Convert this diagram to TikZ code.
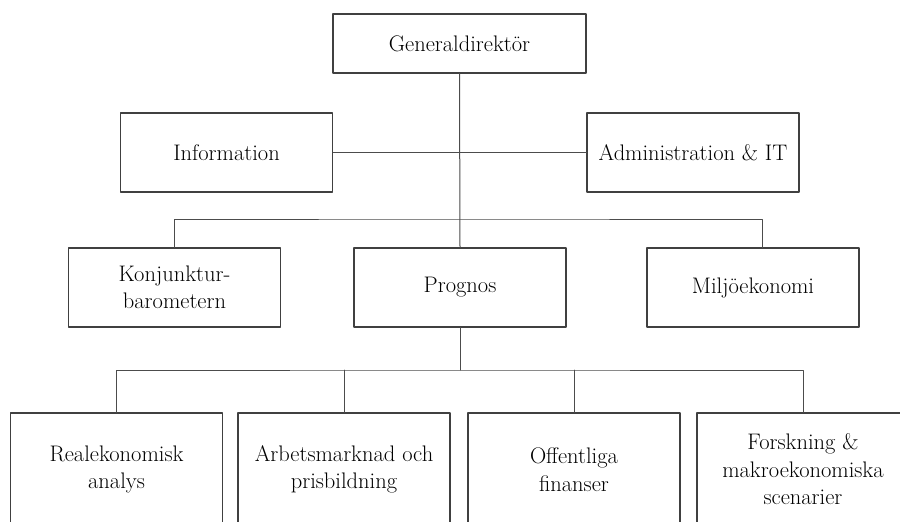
\documentclass[tikz,border=0pt]{standalone}
\usepackage{xcolor}
\usepackage{tikz}
\usetikzlibrary{positioning,calc}

\begin{document}
\begin{tikzpicture}[
				x=1pt,y=-1pt,
				line cap=round,line join=round,
				font=\fontsize{22.5}{27.5}\selectfont,
				unitbox/.style={draw=black!75, line width=1.2pt, align=center,
					inner sep=0pt, minimum width=212pt, minimum height=79pt},
				link/.style={draw=black!70, line width=1pt}
				]
				%----- parameters
				\def\bw{212}         % box width
				\def\bh{79}          % box height
				\def\lowH{113}       % height of bottom boxes (cut by page)
				\def\barA{219}       % bar over middle row
				\def\barB{370}       % bar over bottom row
				
				% page frame
				\useasboundingbox (0,0) rectangle (900,522);
				
				%----- top
				\node[unitbox, minimum width=253pt, minimum height=59pt] (gdNode) at (459.5,43.5) {Generaldirektör};
				
				%----- staff units
				\node[unitbox] (infoNode)  at (226.5,152.5) {Information};
				\node[unitbox] (adminNode) at (693,152.5) {Administration \& IT};
				
				%----- middle row
				\node[unitbox] (konjNode) at (174.5,287.5) {Konjunktur-\\barometern};
				\node[unitbox] (progNode) at (460,287.5)   {Prognos};
				\node[unitbox] (miljNode) at (753,287.5)   {Miljöekonomi};
				
				%----- bottom row (runs off the page)
				\node[unitbox, minimum height=\lowH pt] (realNode) at (116.5,469.5) {Realekonomisk\\analys};
				\node[unitbox, minimum height=\lowH pt] (arbNode)  at (344,469.5)   {Arbetsmarknad och\\prisbildning};
				\node[unitbox, minimum height=\lowH pt] (offNode)  at (574,469.5)   {Offentliga\\finanser};
				\node[unitbox, minimum height=\lowH pt] (forsNode) at (803,469.5)   {Forskning \&\\makroekonomiska\\scenarier};
				
				%----- junctions
				\coordinate (jA) at (460,\barA);
				\coordinate (jB) at (460,\barB);
				\coordinate (miljTop) at (762,248);
				
				%----- connectors
				\draw[link] (gdNode.south) -- (progNode.north);
				\draw[link] (infoNode.east) -- (adminNode.west);
				\draw[link] (konjNode.north) |- (jA) -| (miljTop);
				\draw[link] (progNode.south) -- (jB);
				\draw[link] (realNode.north) |- (jB) -| (forsNode.north);
				\draw[link] (arbNode.north) -- (arbNode.north |- jB);
				\draw[link] (offNode.north) -- (offNode.north |- jB);
				
			\end{tikzpicture}
\end{document}
